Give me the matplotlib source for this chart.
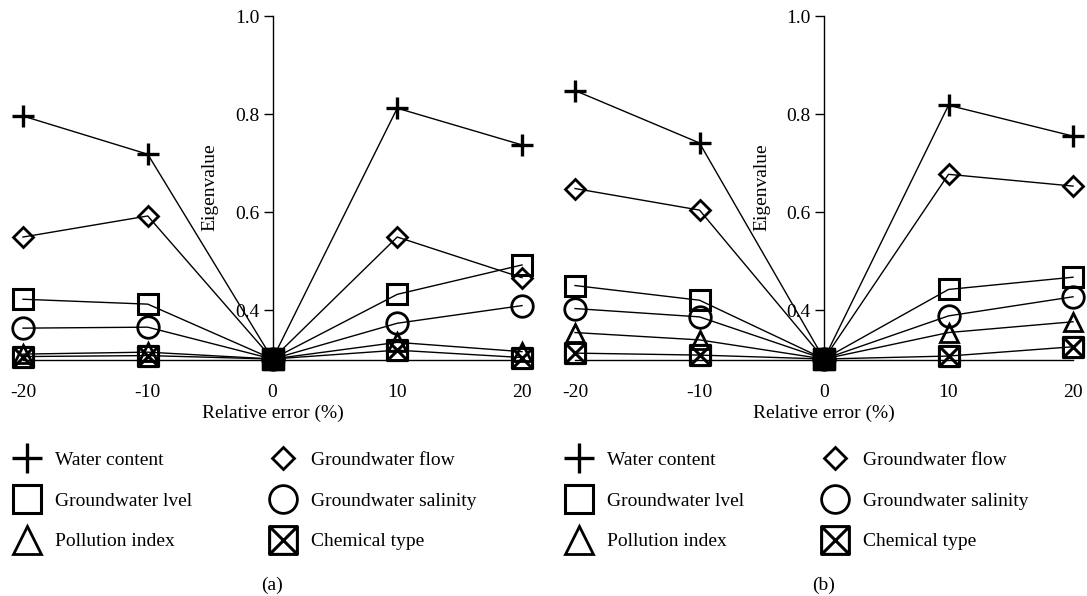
import matplotlib
matplotlib.use("Agg")
import matplotlib.pyplot as plt
from matplotlib.path import Path

plt.rcParams["font.family"] = ["Liberation Serif", "DejaVu Serif"]

# ---------- data ----------
rel_error = [-20, -10, 0, 10, 20]
tick_labels = ["-20", "-10", "0", "10", "20"]
series_names = ["Water content", "Groundwater flow", "Groundwater lvel",
                "Groundwater salinity", "Pollution index", "Chemical type"]

# panel (a)
water_a = [0.796, 0.718, 0.300, 0.812, 0.737]
flow_a = [0.549, 0.592, 0.300, 0.549, 0.466]
level_a = [0.422, 0.412, 0.300, 0.432, 0.492]
salinity_a = [0.363, 0.365, 0.300, 0.373, 0.409]
pollution_a = [0.310, 0.314, 0.300, 0.334, 0.315]
chemical_a = [0.305, 0.307, 0.300, 0.318, 0.303]

# panel (b)
water_b = [0.848, 0.741, 0.300, 0.818, 0.755]
flow_b = [0.648, 0.604, 0.300, 0.677, 0.653]
level_b = [0.450, 0.420, 0.300, 0.442, 0.467]
salinity_b = [0.403, 0.386, 0.300, 0.388, 0.427]
pollution_b = [0.354, 0.339, 0.300, 0.354, 0.376]
chemical_b = [0.312, 0.308, 0.300, 0.306, 0.325]

y_ticks = [0.4, 0.6, 0.8, 1.0]

# square with an X inside
boxx = Path(
    [(-1, -1), (1, -1), (1, 1), (-1, 1), (-1, -1), (-1, -1), (1, 1), (-1, 1), (1, -1)],
    [Path.MOVETO, Path.LINETO, Path.LINETO, Path.LINETO, Path.CLOSEPOLY,
     Path.MOVETO, Path.LINETO, Path.MOVETO, Path.LINETO],
)

styles = [
    dict(marker="+", ms=16, mew=2.4),
    dict(marker="D", ms=10, mew=2.0),
    dict(marker="s", ms=14.5, mew=2.2),
    dict(marker="o", ms=15.5, mew=2.0),
    dict(marker="^", ms=13, mew=2.0),
    dict(marker=boxx, ms=14.5, mew=2.2),
]
legend_ms = [21.5, 11.5, 20, 20, 20, 20]

FS = 14


def draw_panel(fig, ax, values, tag, x_px):
    handles = []
    for name, vals, st in zip(series_names, values, styles):
        (h,) = ax.plot(rel_error, vals, color="black", lw=1.0,
                       mfc="none", mec="black", clip_on=False, label=name, **st)
        handles.append(h)
    # all series meet at zero error -> dark blob
    ax.plot(rel_error[2], values[0][2], marker="s", ms=15.5, color="black",
            clip_on=False, zorder=5)

    ax.set_xlim(-20, 20)
    ax.set_ylim(0.298, 1.0)
    ax.spines["top"].set_visible(False)
    ax.spines["right"].set_visible(False)
    ax.spines["left"].set_position(("data", 0))
    ax.spines["left"].set_linewidth(1.0)
    ax.spines["bottom"].set_linewidth(1.0)

    ax.set_xticks(rel_error)
    ax.set_xticklabels(tick_labels)
    ax.tick_params(axis="x", length=0, pad=17, labelsize=FS)
    ax.set_yticks(y_ticks)
    ax.set_yticklabels([f"{v:.1f}" for v in y_ticks])
    ax.tick_params(axis="y", direction="out", length=6.5, width=1.0, pad=3, labelsize=FS)

    ax.set_xlabel("Relative error (%)", fontsize=FS, labelpad=3)
    ax.text(-5.0, 0.65, "Eigenvalue", rotation=90, ha="center", va="center", fontsize=FS)

    # two single-column legends so the columns sit where the reference has them
    kw = dict(loc="upper left", frameon=False, fontsize=FS, handlelength=1.4,
              handletextpad=0.74, labelspacing=1.2, borderaxespad=0, borderpad=0,
              bbox_transform=fig.transFigure)
    top = 1 - 451 / 596
    leg1 = fig.legend([handles[i] for i in (0, 2, 4)], [series_names[i] for i in (0, 2, 4)],
                      bbox_to_anchor=((x_px - 9.6) / 1087, top), **kw)
    leg2 = fig.legend([handles[i] for i in (1, 3, 5)], [series_names[i] for i in (1, 3, 5)],
                      bbox_to_anchor=((x_px + 246.4) / 1087, top), **kw)
    for leg, idx in ((leg1, (0, 2, 4)), (leg2, (1, 3, 5))):
        for line, i in zip(leg.get_lines(), idx):
            line.set_linestyle("none")
            line.set_markersize(legend_ms[i])

    fig.text((x_px + 249) / 1087, 1 - 585 / 596, tag, ha="center", va="center", fontsize=FS)


fig = plt.figure(figsize=(10.87, 5.96), dpi=100)
ax_a = fig.add_axes([23 / 1087, 0.396, 499 / 1087, 0.577])
ax_b = fig.add_axes([575 / 1087, 0.396, 498 / 1087, 0.577])

draw_panel(fig, ax_a, [water_a, flow_a, level_a, salinity_a, pollution_a, chemical_a], "(a)", 23)
draw_panel(fig, ax_b, [water_b, flow_b, level_b, salinity_b, pollution_b, chemical_b], "(b)", 575)

fig.savefig("out.png", dpi=100)
